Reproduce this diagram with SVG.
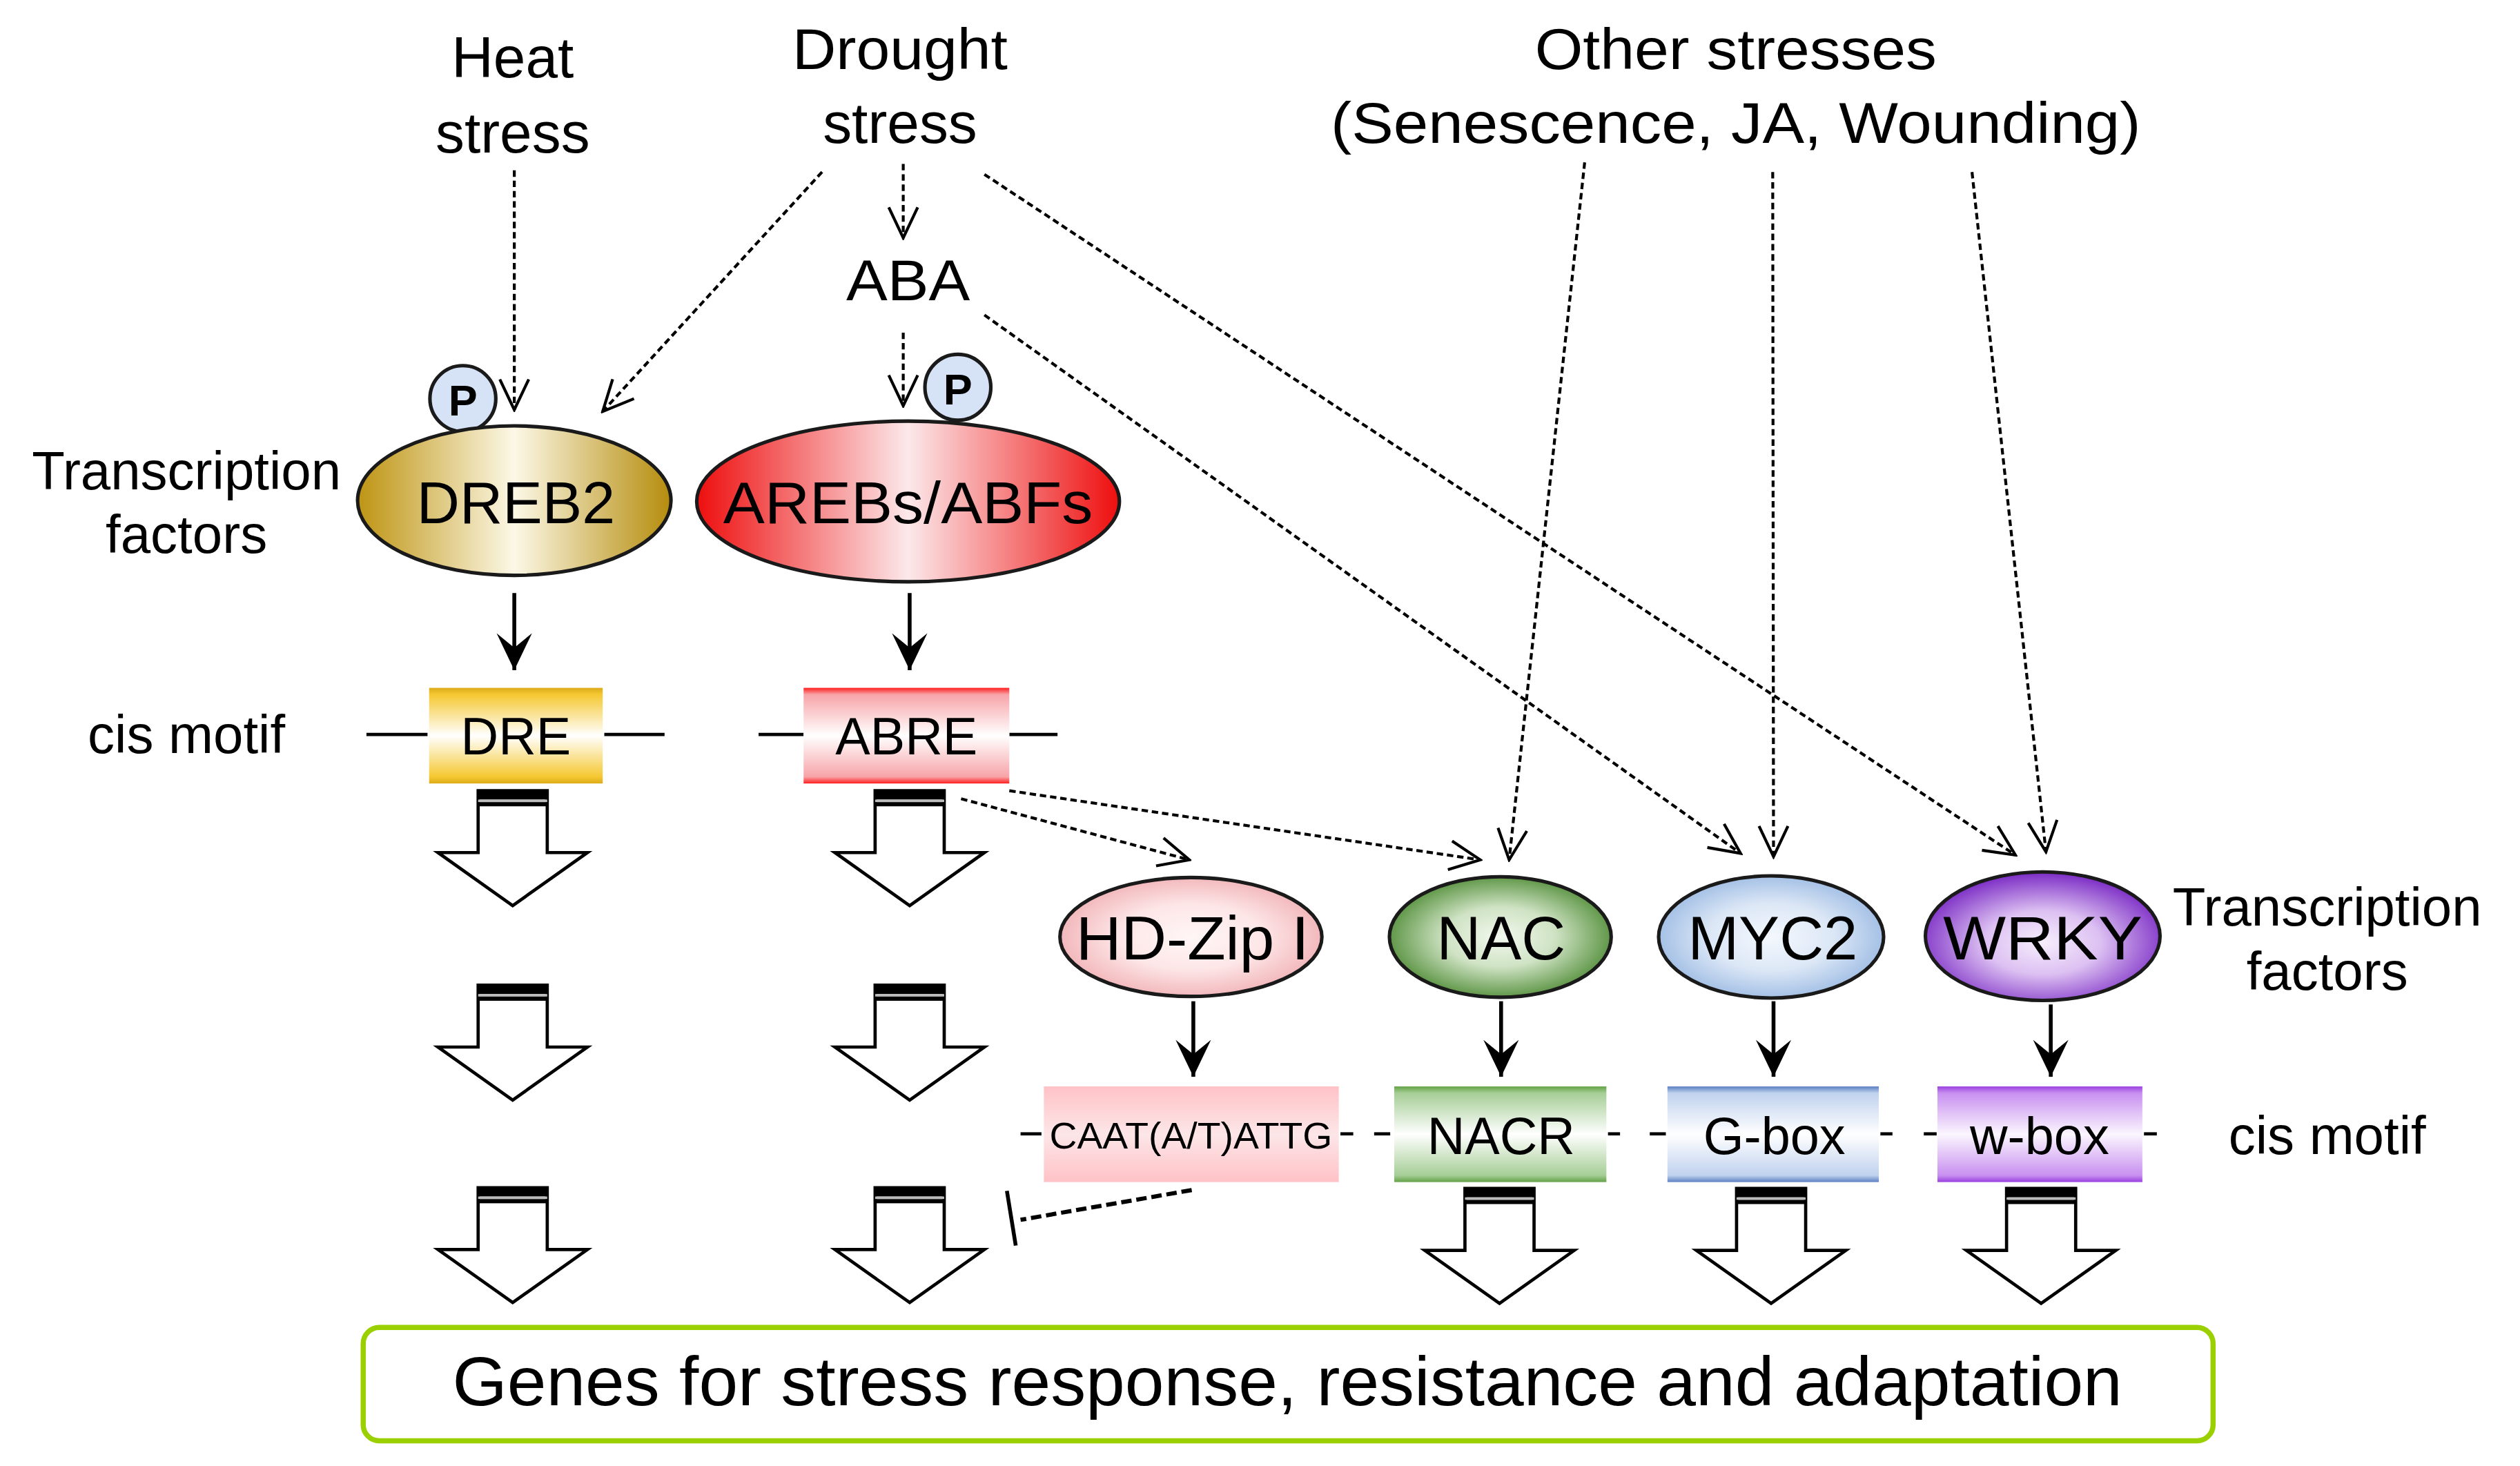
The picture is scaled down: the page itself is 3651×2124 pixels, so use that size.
<svg xmlns="http://www.w3.org/2000/svg" xmlns:xlink="http://www.w3.org/1999/xlink" width="3651" height="2124" viewBox="0 0 3651 2124">
<style>
text{font-family:"Liberation Sans",Arial,sans-serif;fill:#000;text-anchor:middle}
.lbl{font-size:36px}
.side{font-size:33.5px}
.tf{font-size:37px}
.tf2{font-size:38px}
.cis{font-size:32.5px}
.dash{fill:none;stroke:#000;stroke-width:1.8;stroke-dasharray:4 2.4}
.solid{fill:none;stroke:#000;stroke-width:2.4}
.seg{fill:none;stroke:#000;stroke-width:2}
.node{stroke:#1a1a1a;stroke-width:2.2}
</style>
<defs>
<marker id="open" markerUnits="userSpaceOnUse" markerWidth="22" markerHeight="22" viewBox="0 0 22 22" refX="20.5" refY="11" orient="auto">
<path d="M1.5,2 L20.5,11 L1.5,20" fill="none" stroke="#000" stroke-width="1.8" stroke-linejoin="miter"/>
</marker>
<marker id="solidhead" markerUnits="userSpaceOnUse" markerWidth="24" markerHeight="24" viewBox="0 0 24 24" refX="23" refY="12" orient="auto">
<path d="M0,1 L23,12 L0,23 L9,12 Z" fill="#000"/>
</marker>
<linearGradient id="gDREB" x1="0" y1="0" x2="1" y2="0"><stop offset="0" stop-color="#BE9412"/><stop offset="0.5" stop-color="#FCF8E6"/><stop offset="1" stop-color="#B58C0C"/></linearGradient>
<linearGradient id="gAREB" x1="0" y1="0" x2="1" y2="0"><stop offset="0" stop-color="#EE0E0E"/><stop offset="0.5" stop-color="#FCE8EA"/><stop offset="1" stop-color="#EE0E0E"/></linearGradient>
<radialGradient id="gHD" cx="0.5" cy="0.5" r="0.55"><stop offset="0" stop-color="#FFF6F6"/><stop offset="0.5" stop-color="#FDE6E7"/><stop offset="1" stop-color="#F0AEB2"/></radialGradient>
<radialGradient id="gNAC" cx="0.5" cy="0.5" r="0.55"><stop offset="0" stop-color="#F2F8EE"/><stop offset="0.45" stop-color="#CFE3C4"/><stop offset="1" stop-color="#4A8830"/></radialGradient>
<radialGradient id="gMYC" cx="0.5" cy="0.5" r="0.55"><stop offset="0" stop-color="#F4F8FD"/><stop offset="0.5" stop-color="#DCE7F6"/><stop offset="1" stop-color="#98B8E2"/></radialGradient>
<radialGradient id="gWRKY" cx="0.5" cy="0.55" r="0.55"><stop offset="0" stop-color="#F6EEFC"/><stop offset="0.45" stop-color="#DCC0F2"/><stop offset="1" stop-color="#7A2AC4"/></radialGradient>
<linearGradient id="cDRE" x1="0" y1="0" x2="0" y2="1"><stop offset="0" stop-color="#DDAA18"/><stop offset="0.07" stop-color="#F5C832"/><stop offset="0.5" stop-color="#FFFFFF"/><stop offset="0.93" stop-color="#F5C832"/><stop offset="1" stop-color="#DDAA18"/></linearGradient>
<linearGradient id="cABRE" x1="0" y1="0" x2="0" y2="1"><stop offset="0" stop-color="#FF1E1E"/><stop offset="0.07" stop-color="#F7A4A8"/><stop offset="0.5" stop-color="#FFFFFF"/><stop offset="0.93" stop-color="#F7A4A8"/><stop offset="1" stop-color="#FF1E1E"/></linearGradient>
<linearGradient id="cCAAT" x1="0" y1="0" x2="0" y2="1"><stop offset="0" stop-color="#FFC2C6"/><stop offset="0.5" stop-color="#FCE6E8"/><stop offset="1" stop-color="#FFC2C6"/></linearGradient>
<linearGradient id="cNACR" x1="0" y1="0" x2="0" y2="1"><stop offset="0" stop-color="#62A246"/><stop offset="0.07" stop-color="#A6CE96"/><stop offset="0.5" stop-color="#FFFFFF"/><stop offset="0.93" stop-color="#A6CE96"/><stop offset="1" stop-color="#62A246"/></linearGradient>
<linearGradient id="cGBOX" x1="0" y1="0" x2="0" y2="1"><stop offset="0" stop-color="#5A80C0"/><stop offset="0.07" stop-color="#C0D2EE"/><stop offset="0.5" stop-color="#FFFFFF"/><stop offset="0.93" stop-color="#C0D2EE"/><stop offset="1" stop-color="#5A80C0"/></linearGradient>
<linearGradient id="cWBOX" x1="0" y1="0" x2="0" y2="1"><stop offset="0" stop-color="#9A40E0"/><stop offset="0.07" stop-color="#C890F0"/><stop offset="0.5" stop-color="#FBF6FE"/><stop offset="0.93" stop-color="#C890F0"/><stop offset="1" stop-color="#9A40E0"/></linearGradient>
<g id="barrow">
<path d="M-21.5,0 L21.5,0 L21.5,38.5 L46.5,38.5 L0,71.5 L-46.5,38.5 L-21.5,38.5 Z" fill="#fff" stroke="#000" stroke-width="2" stroke-linejoin="miter"/>
<rect x="-21.5" y="0" width="43" height="5.5" fill="#000"/>
<rect x="-21.5" y="5.5" width="43" height="1.6" fill="#BBBBBB"/>
<rect x="-21.5" y="7.1" width="43" height="2.6" fill="#000"/>
</g>
</defs>
<rect width="3651" height="2124" fill="#fff"/>
<g transform="scale(2.3285)">

<g id="labels">
<text class="lbl" x="319" y="48">Heat</text>
<text class="lbl" x="319" y="95">stress</text>
<text class="lbl" x="560" y="43" textLength="134" lengthAdjust="spacingAndGlyphs">Drought</text>
<text class="lbl" x="560" y="89">stress</text>
<text class="lbl" x="1080" y="43" textLength="250" lengthAdjust="spacingAndGlyphs">Other stresses</text>
<text class="lbl" x="1080" y="89" textLength="504" lengthAdjust="spacingAndGlyphs">(Senescence,  JA, Wounding)</text>
<text class="side" x="116" y="304.5">Transcription</text>
<text class="side" x="116" y="344">factors</text>
<text class="side" x="116" y="468.5">cis motif</text>
<text class="side" x="1448" y="576">Transcription</text>
<text class="side" x="1448" y="616">factors</text>
<text class="side" x="1448" y="718">cis motif</text>
</g>

<g id="ABA"><text class="lbl" x="565" y="187" textLength="77" lengthAdjust="spacingAndGlyphs">ABA</text></g>

<g id="connectors">
<line class="dash" x1="320" y1="106" x2="320" y2="255" marker-end="url(#open)"/>
<line class="dash" x1="511.5" y1="107" x2="375" y2="256" marker-end="url(#open)"/>
<line class="dash" x1="562" y1="102" x2="562" y2="148" marker-end="url(#open)"/>
<line class="dash" x1="562" y1="207" x2="562" y2="252.5" marker-end="url(#open)"/>
<line class="dash" x1="612.5" y1="108.5" x2="1254" y2="532" marker-end="url(#open)"/>
<line class="dash" x1="612.5" y1="196" x2="1083" y2="531" marker-end="url(#open)"/>
<line class="dash" x1="986" y1="101" x2="939" y2="535" marker-end="url(#open)"/>
<line class="dash" x1="1103" y1="107" x2="1103.5" y2="533" marker-end="url(#open)"/>
<line class="dash" x1="1227" y1="107" x2="1273" y2="530" marker-end="url(#open)"/>
<line class="dash" x1="598" y1="497" x2="740" y2="535" marker-end="url(#open)"/>
<line class="dash" x1="628" y1="492" x2="921" y2="535" marker-end="url(#open)"/>
<line class="solid" x1="320" y1="369" x2="320" y2="417" marker-end="url(#solidhead)"/>
<line class="solid" x1="566" y1="369" x2="566" y2="417" marker-end="url(#solidhead)"/>
<line class="solid" x1="742.5" y1="623" x2="742.5" y2="670" marker-end="url(#solidhead)"/>
<line class="solid" x1="934" y1="623" x2="934" y2="670" marker-end="url(#solidhead)"/>
<line class="solid" x1="1103.5" y1="623" x2="1103.5" y2="670" marker-end="url(#solidhead)"/>
<line class="solid" x1="1276" y1="625" x2="1276" y2="670" marker-end="url(#solidhead)"/>
<line x1="741.5" y1="740.5" x2="635" y2="759" fill="none" stroke="#000" stroke-width="2.6" stroke-dasharray="6.5 3"/>
<line x1="626.5" y1="741" x2="632" y2="775" fill="none" stroke="#000" stroke-width="2.4"/>
<line class="seg" x1="228" y1="457" x2="266" y2="457"/>
<line class="seg" x1="376" y1="457" x2="413.5" y2="457"/>
<line class="seg" x1="472" y1="457" x2="500" y2="457"/>
<line class="seg" x1="628" y1="457" x2="658" y2="457"/>
<line class="seg" x1="635" y1="705.5" x2="648" y2="705.5"/>
<line class="seg" x1="834" y1="705.5" x2="842" y2="705.5"/>
<line class="seg" x1="855" y1="705.5" x2="865" y2="705.5"/>
<line class="seg" x1="1000.5" y1="705.5" x2="1008" y2="705.5"/>
<line class="seg" x1="1026.5" y1="705.5" x2="1036.5" y2="705.5"/>
<line class="seg" x1="1170" y1="705.5" x2="1177.5" y2="705.5"/>
<line class="seg" x1="1197" y1="705.5" x2="1205" y2="705.5"/>
<line class="seg" x1="1334" y1="705.5" x2="1342" y2="705.5"/>
</g>

<g id="P1"><ellipse cx="288" cy="248" rx="20.5" ry="20.5" fill="#D6E2F5" class="node"/><text x="288" y="258.5" style="font-size:27px;font-weight:bold">P</text></g>
<g id="P2"><ellipse cx="596" cy="241" rx="20.5" ry="20.5" fill="#D6E2F5" class="node"/><text x="596" y="251.5" style="font-size:27px;font-weight:bold">P</text></g>

<g id="DREB2"><ellipse cx="320" cy="311.5" rx="97.5" ry="46.5" fill="url(#gDREB)" class="node"/><text class="tf" x="321" y="325.5">DREB2</text></g>
<g id="AREBs"><ellipse cx="565" cy="312" rx="131.5" ry="50" fill="url(#gAREB)" class="node"/><text class="tf" x="565" y="325.5" textLength="230" lengthAdjust="spacingAndGlyphs">AREBs/ABFs</text></g>

<g id="DRE"><rect x="267" y="428" width="108" height="59.5" fill="url(#cDRE)"/><text class="cis" x="321" y="469.5">DRE</text></g>
<g id="ABRE"><rect x="500" y="428" width="128" height="59.5" fill="url(#cABRE)"/><text class="cis" x="564" y="469.5">ABRE</text></g>

<g id="HDZip"><ellipse cx="741" cy="583" rx="81.5" ry="37" fill="url(#gHD)" class="node"/><text class="tf2" x="742" y="597" textLength="145" lengthAdjust="spacingAndGlyphs">HD-Zip I</text></g>
<g id="NAC"><ellipse cx="933.5" cy="583" rx="69" ry="37.5" fill="url(#gNAC)" class="node"/><text class="tf2" x="934" y="597">NAC</text></g>
<g id="MYC2"><ellipse cx="1102" cy="583" rx="70" ry="38" fill="url(#gMYC)" class="node"/><text class="tf2" x="1103" y="597">MYC2</text></g>
<g id="WRKY"><ellipse cx="1271" cy="582.5" rx="73" ry="40" fill="url(#gWRKY)" class="node"/><text class="tf2" x="1271" y="597" textLength="124" lengthAdjust="spacingAndGlyphs">WRKY</text></g>

<g id="CAAT"><rect x="649.5" y="676" width="183.5" height="59.5" fill="url(#cCAAT)"/><text x="741" y="714.5" style="font-size:23px" textLength="176" lengthAdjust="spacingAndGlyphs">CAAT(A/T)ATTG</text></g>
<g id="NACR"><rect x="867.5" y="676" width="132" height="59.5" fill="url(#cNACR)"/><text class="cis" x="934" y="718">NACR</text></g>
<g id="Gbox"><rect x="1037.5" y="676" width="131.5" height="59.5" fill="url(#cGBOX)"/><text class="cis" x="1104" y="718">G-box</text></g>
<g id="wbox"><rect x="1205.5" y="676" width="127.5" height="59.5" fill="url(#cWBOX)"/><text class="cis" x="1269" y="718">w-box</text></g>

<g id="block-arrows">
<use xlink:href="#barrow" x="319" y="492"/>
<use xlink:href="#barrow" x="319" y="613"/>
<use xlink:href="#barrow" x="319" y="739"/>
<use xlink:href="#barrow" x="566" y="492"/>
<use xlink:href="#barrow" x="566" y="613"/>
<use xlink:href="#barrow" x="566" y="739"/>
<use xlink:href="#barrow" x="933" y="739.5"/>
<use xlink:href="#barrow" x="1102" y="739.5"/>
<use xlink:href="#barrow" x="1270" y="739.5"/>
</g>

<g id="genes"><rect x="226" y="826" width="1151" height="70.5" rx="10" ry="10" fill="#fff" stroke="#9BD000" stroke-width="3.2"/><text x="801" y="874.5" style="font-size:43px" textLength="1039" lengthAdjust="spacingAndGlyphs">Genes for stress response, resistance and adaptation</text></g>

</g>
</svg>
